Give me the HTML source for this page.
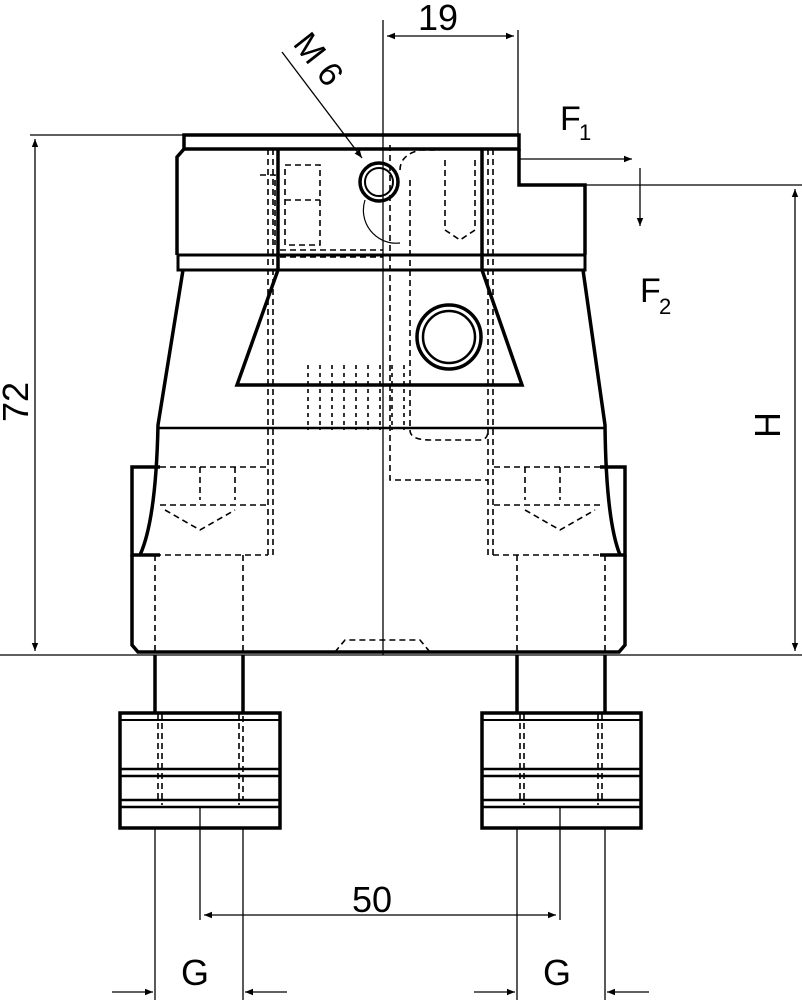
<!DOCTYPE html>
<html><head><style>
html,body{margin:0;padding:0;background:#fff;}
svg{display:block;}
text{font-family:"Liberation Sans",sans-serif;fill:#000;}
</style></head><body>
<svg width="802" height="1000" viewBox="0 0 802 1000" xmlns="http://www.w3.org/2000/svg">
<defs>
<marker id="a" viewBox="0 0 10 10" refX="10" refY="5" markerWidth="12" markerHeight="8" orient="auto-start-reverse" markerUnits="userSpaceOnUse"><path d="M0,1 L10,5 L0,9 z" fill="#000"/></marker>
</defs>
<g fill="none" stroke="#000">
<g stroke-width="1.3">
<line x1="383" y1="20" x2="383" y2="655"/>
<line x1="518" y1="30" x2="518" y2="134"/>
<line x1="30" y1="135" x2="183" y2="135"/>
<line x1="585" y1="185" x2="802" y2="185"/>
<line x1="0" y1="655" x2="802" y2="655"/>
<line x1="387" y1="36" x2="514" y2="36" marker-start="url(#a)" marker-end="url(#a)"/>
<line x1="35" y1="139" x2="35" y2="651" marker-start="url(#a)" marker-end="url(#a)"/>
<line x1="795" y1="189" x2="795" y2="651" marker-start="url(#a)" marker-end="url(#a)"/>
<line x1="520" y1="159" x2="632" y2="159" marker-end="url(#a)"/>
<line x1="640" y1="168" x2="640" y2="226" marker-end="url(#a)"/>
<line x1="282" y1="52" x2="362" y2="158" marker-end="url(#a)"/>
<line x1="204" y1="915" x2="556" y2="915" marker-start="url(#a)" marker-end="url(#a)"/>
<line x1="155" y1="828" x2="155" y2="1000"/><line x1="243" y1="828" x2="243" y2="1000"/><line x1="200" y1="808" x2="200" y2="920"/>
<line x1="517" y1="828" x2="517" y2="1000"/><line x1="605" y1="828" x2="605" y2="1000"/><line x1="560" y1="808" x2="560" y2="920"/>
<line x1="112" y1="992" x2="153" y2="992" marker-end="url(#a)"/><line x1="287" y1="992" x2="245" y2="992" marker-end="url(#a)"/>
<line x1="474" y1="992" x2="515" y2="992" marker-end="url(#a)"/><line x1="649" y1="992" x2="607" y2="992" marker-end="url(#a)"/>
</g>
<g stroke-width="3.5">
<rect x="184" y="135" width="335" height="14"/>
<path d="M519,149 V185 H585 V255 M184,149 L177,157 V255"/>
<rect x="178" y="255" width="407" height="15" stroke-width="3"/>
<path d="M183,270 L158,425 Q156,520 140,555 M583,270 L605,425 Q606,520 620,555"/>
<line x1="158" y1="428" x2="605" y2="428" stroke-width="2.5"/>
<path d="M278,149 V270 L237,385 H522 L482,270 V149"/>
<path d="M160,467 H132 V555 H160 M600,467 H625 V555 H600"/>
<path d="M132,555 V645 L138,652 H619 L625,645 V555"/>
<line x1="155" y1="655" x2="155" y2="712"/><line x1="243" y1="655" x2="243" y2="712"/>
<line x1="517" y1="655" x2="517" y2="712"/><line x1="605" y1="655" x2="605" y2="712"/>
<rect x="120" y="713" width="160" height="115"/>
<rect x="482" y="713" width="159" height="115"/>
<path d="M120,769 H280 M120,776 H280 M120,800 H280 M120,807 H280 M482,769 H641 M482,776 H641 M482,800 H641 M482,807 H641" stroke-width="2.5"/>
<circle cx="379" cy="182" r="19"/><circle cx="379" cy="182" r="14" stroke-width="2"/>
<circle cx="449" cy="337" r="32"/><circle cx="449" cy="337" r="26" stroke-width="2.5"/>
</g>
<line x1="120" y1="720" x2="280" y2="720" stroke-width="2"/><line x1="482" y1="720" x2="641" y2="720" stroke-width="2"/>
<path d="M365,200 A33,33 0 0 0 400,243" stroke-width="1.2"/>
<g stroke-width="1.6" stroke-dasharray="6,4">
<path d="M268,149 V555 M273,149 V555 M488,149 V555 M493,149 V555"/>
<path d="M285,165 H320 V245 H285 Z M285,200 H320 M260,175 H275 V245"/>
<path d="M445,160 V230 L460,240 L475,230 V160"/>
<path d="M280,250 H383 M280,257 H383"/>
<path d="M390,145 V480 H488 M400,170 Q400,155 420,150 H440 M410,180 V430 Q410,440 430,440 H480 Q488,440 488,430"/>
<path d="M160,467 H268 M200,467 V500 M235,467 V500 M160,505 H268 M165,510 L200,530 L235,510"/>
<path d="M600,467 H493 M525,467 V500 M560,467 V500 M600,505 H493 M525,510 L560,530 L595,510"/>
<path d="M155,555 V652 M243,555 V652 M517,555 V652 M605,555 V652"/>
<path d="M155,555 H268 M493,555 H605"/>
<path d="M335,652 L345,640 H420 L430,652"/>
<path d="M158,713 V800 H243 V713 M162,713 V805 M239,713 V805 M520,713 V800 H602 V713 M524,713 V805 M598,713 V805"/>
<path d="M308,365 V430 M320,365 V430 M332,365 V430 M344,365 V430 M356,365 V430 M368,365 V430 M380,365 V430 M392,365 V430 M404,365 V430" stroke-dasharray="4,4"/>
</g>
</g>
<text x="418" y="30" font-size="36">19</text>
<text x="560" y="130" font-size="34">F</text><text x="579" y="140" font-size="22">1</text>
<text x="640" y="302" font-size="34">F</text><text x="659" y="314" font-size="22">2</text>
<text x="352" y="912" font-size="36">50</text>
<text x="181" y="985" font-size="36">G</text>
<text x="543" y="985" font-size="36">G</text>
<text font-size="36" transform="translate(780,438) rotate(-90)">H</text>
<text font-size="36" transform="translate(28,422) rotate(-90)">72</text>
<text font-size="34" transform="translate(292,44) rotate(52)">M 6</text>
</svg>
</body></html>
